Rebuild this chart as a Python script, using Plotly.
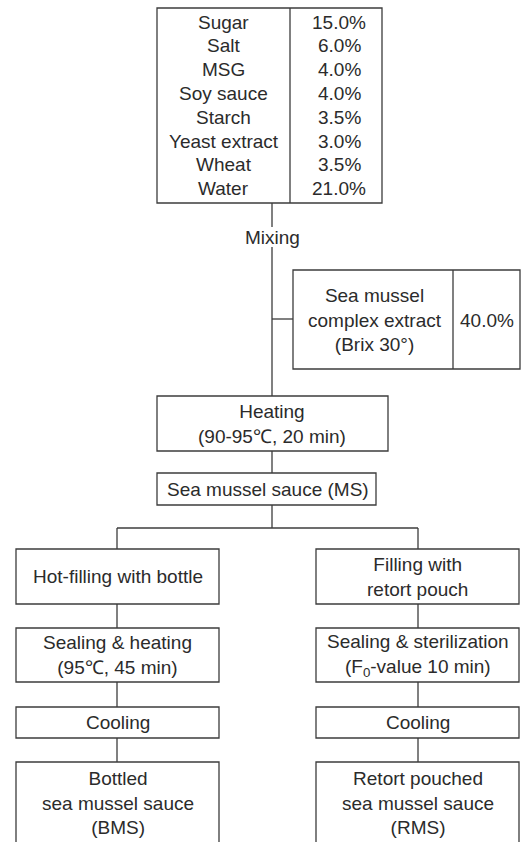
import plotly.graph_objects as go

# ---- data (text content of the flow chart) ----
ingredients = ["Sugar", "Salt", "MSG", "Soy sauce", "Starch", "Yeast extract", "Wheat", "Water"]
percents = ["15.0%", "6.0%", "4.0%", "4.0%", "3.5%", "3.0%", "3.5%", "21.0%"]
mix_label = "Mixing"
extract_label = ["Sea mussel", "complex extract", "(Brix 30°)"]
extract_pct = "40.0%"
heating_label = ["Heating", "(90-95℃, 20 min)"]
sauce_label = "Sea mussel sauce (MS)"
left_steps = [["Hot-filling with bottle"],
              ["Sealing & heating", "(95℃, 45 min)"],
              ["Cooling"],
              ["Bottled", "sea mussel sauce", "(BMS)"]]
right_steps = [["Filling with", "retort pouch"],
               ["Sealing & sterilization", "(F<sub>0</sub>-value 10 min)"],
               ["Cooling"],
               ["Retort pouched", "sea mussel sauce", "(RMS)"]]

W, H = 524, 842
LINE = dict(color="#3c3c3c", width=1.3)
FONT = dict(family="Liberation Sans, Arial, sans-serif", size=19, color="#2b2b2b")

fig = go.Figure()
shapes = []
annotations = []


def rect(x0, y0, x1, y1):
    shapes.append(dict(type="rect", xref="x", yref="y", x0=x0, y0=y0, x1=x1, y1=y1,
                       line=LINE, fillcolor="white", layer="above"))


def seg(x0, y0, x1, y1):
    shapes.append(dict(type="line", xref="x", yref="y", x0=x0, y0=y0, x1=x1, y1=y1,
                       line=LINE, layer="above"))


def text(x, y, t):
    annotations.append(dict(x=x, y=y, xref="x", yref="y", text=t, showarrow=False,
                            xanchor="center", yanchor="middle", font=FONT))


# ---- ingredient table ----
rect(157, 8, 382, 203)
seg(290, 8, 290, 203)
row_y0, row_dy = 22, 23.8
for i, (name, pct) in enumerate(zip(ingredients, percents)):
    y = row_y0 + i * row_dy
    text(223.5, y, name)
    text(339, y, pct)

# ---- main trunk ----
seg(272, 203, 272, 227)
text(272, 237, mix_label)
seg(272, 247, 272, 396)
seg(272, 319, 293, 319)

# ---- extract box ----
rect(293, 270, 520, 369)
seg(453, 270, 453, 369)
text(375, 320, "<br>".join(extract_label))
text(486.5, 320, extract_pct)

# ---- heating ----
rect(157, 396, 388, 451)
text(272, 424, "<br>".join(heating_label))
seg(272, 451, 272, 473)

# ---- sauce ----
rect(157, 473, 376, 505)
text(268, 489, sauce_label)
seg(272, 505, 272, 528)
seg(117, 528, 418, 528)
seg(117, 528, 117, 549)
seg(418, 528, 418, 549)

# ---- two branches ----
box_rows = [(549, 604), (628, 682), (707, 738), (762, None)]
branches = [(16, 219, 117, left_steps), (316, 519, 418, right_steps)]
for x0, x1, xc, steps in branches:
    prev_bottom = None
    for (top, bottom), lines in zip(box_rows, steps):
        if prev_bottom is not None:
            seg(xc, prev_bottom, xc, top)
        if bottom is None:
            shapes.append(dict(type="path", xref="x", yref="y",
                               path=f"M{x0},{H + 5} L{x0},{top} L{x1},{top} L{x1},{H + 5}",
                               line=LINE, fillcolor="rgba(0,0,0,0)", layer="above"))
            yc = top + 41
        else:
            rect(x0, top, x1, bottom)
            yc = (top + bottom) / 2
        text((x0 + x1) / 2, yc, "<br>".join(lines))
        prev_bottom = bottom

fig.update_layout(
    width=W, height=H,
    margin=dict(l=0, r=0, t=0, b=0),
    paper_bgcolor="white", plot_bgcolor="white",
    xaxis=dict(range=[0, W], visible=False, fixedrange=True),
    yaxis=dict(range=[H, 0], visible=False, fixedrange=True),
    shapes=shapes, annotations=annotations, showlegend=False,
)

fig.write_html(
    "out.html",
    config={"displayModeBar": False},
    post_script="document.body.style.margin='0';document.body.style.overflow='hidden';",
)
